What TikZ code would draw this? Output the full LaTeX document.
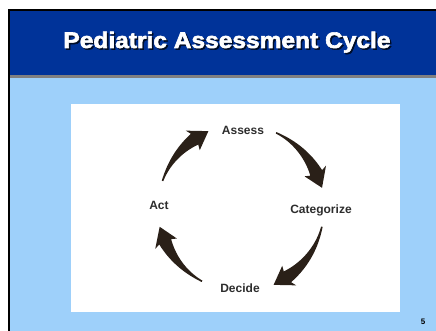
\documentclass[tikz,border=0pt]{standalone}
\usepackage{fontspec}
\setmainfont{Liberation Sans}
\newfontfamily\titlefont{Liberation Sans}[BoldFeatures={FakeBold=2.5}]
\definecolor{headblue}{RGB}{0,51,153}
\definecolor{paleblue}{RGB}{158,208,250}
\definecolor{rulegray}{RGB}{128,128,128}
\definecolor{arrowbrown}{RGB}{42,32,24}
\definecolor{labelgray}{RGB}{45,45,45}
\begin{document}
\begin{tikzpicture}[x=1pt,y=-1pt,
  steplabel/.style={font=\fontsize{12}{14}\selectfont\bfseries, text=labelgray, inner sep=0pt},
  arrowfill/.style={fill=arrowbrown},
  titletext/.style={font=\titlefont\fontsize{22.5}{26}\selectfont\bfseries, inner sep=0pt, anchor=base}]
% page and slide background
\useasboundingbox (0,0) rectangle (436,331);
\fill[white] (0,0) rectangle (436,331);
\fill[black] (8,9) rectangle (436,331);
\fill[headblue] (10,11) rectangle (436,75);
\fill[rulegray] (10,75) rectangle (436,78);
\fill[paleblue] (10,78) rectangle (436,331);
\fill[white] (71,104) rectangle (400,312);
% title with drop shadow
\node[titletext, text=black!75!headblue] (titleshadow) at (228.5,49.5) {\scalebox{1.09}[1]{Pediatric Assessment Cycle}};
\node[titletext, text=white] (title) at (227,48) {\scalebox{1.09}[1]{Pediatric Assessment Cycle}};
% cycle steps
\coordinate (C) at (241,208);
\node[steplabel] (assess) at (243,130) {Assess};
\node[steplabel] (categorize) at (321,210) {Categorize};
\node[steplabel] (decide) at (240,288) {Decide};
\node[steplabel] (act) at (159,205) {Act};
% tapered curved arrows, angles measured clockwise on screen
\def\R{83}
\newcommand{\cyclearrow}[2]{%
  \pgfmathsetmacro{\pa}{#1}%
  \pgfmathsetmacro{\pb}{#2-11}%
  \fill[arrowfill, shift={(C)}]
    plot[domain=0:1, samples=30] ({\pa+(\pb-\pa)*\x}:{\R+0.8+5.7*\x^1.4})
    -- ({\pb-1.5}:{\R+12}) -- ({#2}:{\R+0.5}) -- ({\pb-1.5}:{\R-12})
    -- plot[domain=1:0, samples=30] ({\pa+(\pb-\pa)*\x}:{\R-0.8-5.7*\x^1.4})
    -- cycle;
}
\cyclearrow{-161}{-113}
\cyclearrow{-65}{-14}
\cyclearrow{13}{67}
\cyclearrow{118}{167}
% slide number
\node[font=\fontsize{8}{9}\selectfont\bfseries, inner sep=0pt] (pagenum) at (423,322) {5};
\end{tikzpicture}
\end{document}
